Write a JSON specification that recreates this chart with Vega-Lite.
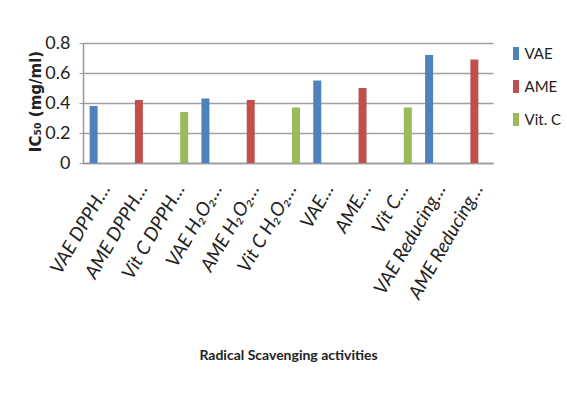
{
  "$schema": "https://vega.github.io/schema/vega-lite/v6.json",
  "width": 410,
  "height": 120,
  "autosize": "none",
  "padding": {"left": 83, "top": 43, "right": 74, "bottom": 235},
  "background": "white",
  "config": {
    "view": {"stroke": null},
    "font": "Liberation Sans, sans-serif"
  },
  "data": {
    "values": [
      {"activity": "VAE DPPH…", "series": "VAE", "ic50": 0.38},
      {"activity": "AME DPPH…", "series": "AME", "ic50": 0.42},
      {"activity": "Vit C DPPH…", "series": "Vit. C", "ic50": 0.34},
      {"activity": "VAE H₂O₂…", "series": "VAE", "ic50": 0.43},
      {"activity": "AME H₂O₂…", "series": "AME", "ic50": 0.42},
      {"activity": "Vit C H₂O₂…", "series": "Vit. C", "ic50": 0.37},
      {"activity": "VAE…", "series": "VAE", "ic50": 0.55},
      {"activity": "AME…", "series": "AME", "ic50": 0.50},
      {"activity": "Vit C…", "series": "Vit. C", "ic50": 0.37},
      {"activity": "VAE Reducing…", "series": "VAE", "ic50": 0.72},
      {"activity": "AME Reducing…", "series": "AME", "ic50": 0.69}
    ]
  },
  "mark": {"type": "bar"},
  "encoding": {
    "x": {
      "field": "activity",
      "type": "nominal",
      "sort": null,
      "scale": {"paddingInner": 0.356, "paddingOuter": 0.178},
      "axis": {
        "title": "Radical Scavenging activities",
        "titleFont": "Lato, Liberation Sans, sans-serif",
        "titleFontSize": 14,
        "titleFontWeight": "bold",
        "titleColor": "#222222",
        "titleY": 192,
        "titleBaseline": "middle",
        "labelAngle": -60,
        "labelFont": "Lato, Liberation Sans, sans-serif",
        "labelFontStyle": "italic",
        "labelFontSize": 19,
        "labelColor": "#222222",
        "labelPadding": 22,
        "labelOffset": 4,
        "labelOverlap": false,
        "labelLimit": 0,
        "ticks": false,
        "domainColor": "#9a9a9a",
        "domainWidth": 1.5,
        "grid": false
      }
    },
    "xOffset": {
      "field": "series",
      "type": "nominal",
      "scale": {"domain": ["VAE", "AME", "Vit. C"], "paddingInner": 0, "paddingOuter": 0}
    },
    "y": {
      "field": "ic50",
      "type": "quantitative",
      "scale": {"domain": [0, 0.8], "nice": false},
      "axis": {
        "title": "IC₅₀ (mg/ml)",
        "titleFont": "DejaVu Sans, sans-serif",
        "titleFontSize": 15,
        "titleFontWeight": "bold",
        "titleColor": "#222222",
        "titleX": -48,
        "titleY": 58,
        "titleAngle": -90,
        "titleAlign": "center",
        "titleBaseline": "middle",
        "values": [0, 0.2, 0.4, 0.6, 0.8],
        "format": ".1~f",
        "labelFont": "Lato, Liberation Sans, sans-serif",
        "labelFontSize": 18,
        "labelColor": "#222222",
        "labelPadding": 9,
        "tickSize": 4,
        "tickColor": "#9a9a9a",
        "domainColor": "#9a9a9a",
        "domainWidth": 1.5,
        "grid": true,
        "gridColor": "#a0a0a0",
        "gridWidth": 1.5
      }
    },
    "color": {
      "field": "series",
      "type": "nominal",
      "scale": {"domain": ["VAE", "AME", "Vit. C"], "range": ["#4F81BD", "#C0504D", "#9BBB59"]},
      "legend": {
        "title": null,
        "orient": "none",
        "legendX": 425.5,
        "legendY": 3,
        "symbolType": "M-0.46,-1H0.46V1H-0.46Z",
        "symbolSize": 169,
        "symbolStrokeWidth": 0,
        "labelFont": "Lato, Liberation Sans, sans-serif",
        "labelFontSize": 15,
        "labelColor": "#222222",
        "labelOffset": 1,
        "rowPadding": 17
      }
    }
  }
}
